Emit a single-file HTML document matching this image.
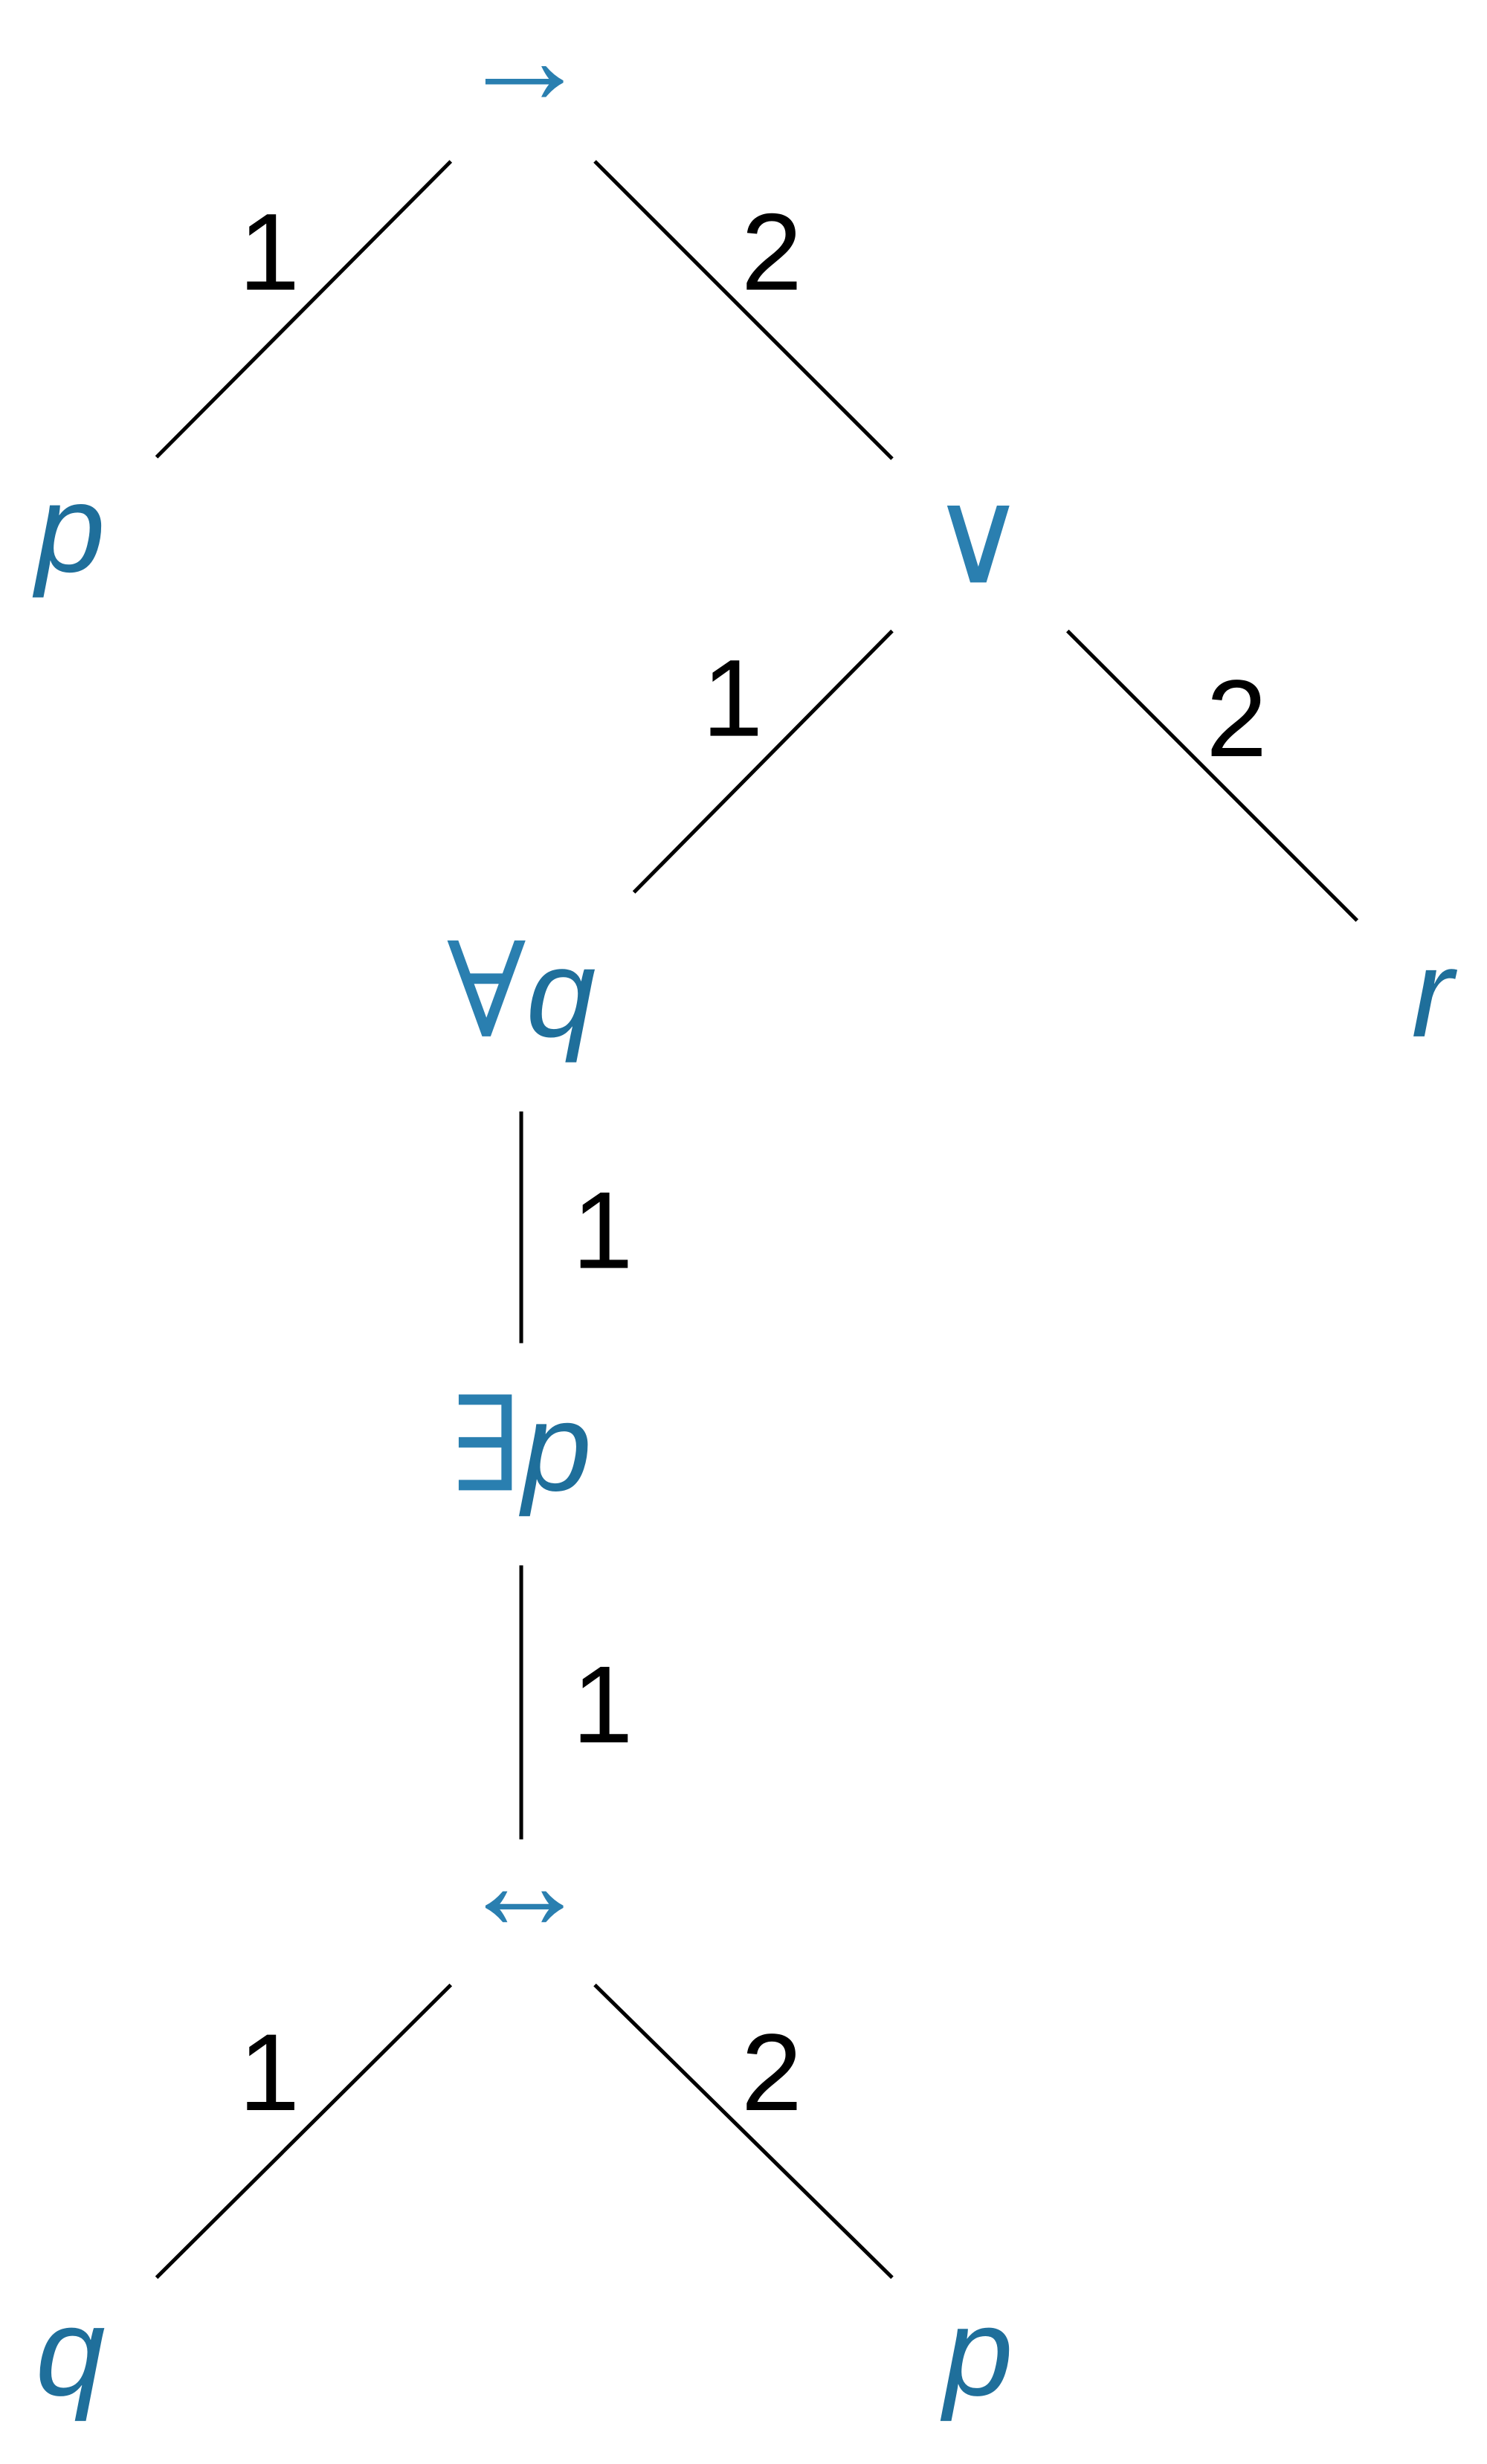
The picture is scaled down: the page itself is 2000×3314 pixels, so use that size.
<!DOCTYPE html>
<html>
<head>
<meta charset="utf-8">
<style>
html,body{margin:0;padding:0;background:#fff;}
svg{display:block;}
.node{font-family:"Liberation Sans","DejaVu Sans",sans-serif;fill:#1f6f9b;font-size:80px;}
.sym{font-family:"Liberation Serif","DejaVu Serif",serif;fill:#2a7fb0;font-size:84px;}
.lab{font-family:"Liberation Sans",sans-serif;fill:#000;font-size:70px;}
</style>
</head>
<body>
<svg id="tree" width="2000" height="3314" viewBox="0 0 950 1574" xmlns="http://www.w3.org/2000/svg">
<g id="edges"></g>
<g id="labels"></g>
<g id="nodes"></g>
</svg>
<script>
const nodeSymbols = ["→", "p", "∨", "∀", "r", "∃", "↔", "q", "p"];
const nodeVars = ["", "", "", "q", "", "p", "", "", ""];
const nodeItalic = [false, true, false, true, true, true, false, true, true];
const nodeX = [335, 45, 625, 333, 915, 333, 335, 45, 625];
const nodeY = [66, 365, 372, 662, 662, 952, 1232, 1530, 1530];
const edgeFrom = [[288,103],[380,103],[570,403],[682,403],[333,710],[333,1000],[288,1268],[380,1268]];
const edgeTo = [[100,292],[570,293],[405,570],[867,588],[333,858],[333,1175],[100,1455],[570,1455]];
const edgeLabels = ["1","2","1","2","1","1","1","2"];
const labelPos = [[172,185],[493,185],[468,470],[790,483],[385,810],[385,1113],[172,1348],[493,1348]];

const NS = "http://www.w3.org/2000/svg";
const gE = document.getElementById("edges");
const gL = document.getElementById("labels");
const gN = document.getElementById("nodes");

edgeFrom.forEach((f, i) => {
  const l = document.createElementNS(NS, "line");
  l.setAttribute("x1", f[0]); l.setAttribute("y1", f[1]);
  l.setAttribute("x2", edgeTo[i][0]); l.setAttribute("y2", edgeTo[i][1]);
  l.setAttribute("stroke", "#000"); l.setAttribute("stroke-width", "2.4");
  
  
  gE.appendChild(l);
  const t = document.createElementNS(NS, "text");
  t.setAttribute("x", labelPos[i][0]); t.setAttribute("y", labelPos[i][1]);
  t.setAttribute("text-anchor", "middle");
  t.setAttribute("class", "lab");
  t.textContent = edgeLabels[i];
  
  
  gL.appendChild(t);
});

nodeSymbols.forEach((s, i) => {
  const t = document.createElementNS(NS, "text");
  t.setAttribute("x", nodeX[i]); t.setAttribute("y", nodeY[i]);
  t.setAttribute("text-anchor", "middle");
  
  
  const isLetter = /[a-z]/.test(s);
  const a = document.createElementNS(NS, "tspan");
  a.setAttribute("class", isLetter ? "node" : "sym");
  if (isLetter && nodeItalic[i]) a.setAttribute("font-style", "italic");
  a.textContent = s;
  t.appendChild(a);
  if (nodeVars[i]) {
    const b = document.createElementNS(NS, "tspan");
    b.setAttribute("class", "node");
    b.setAttribute("font-style", "italic");
    b.textContent = nodeVars[i];
    t.appendChild(b);
  }
  gN.appendChild(t);
});
</script>
</body>
</html>
